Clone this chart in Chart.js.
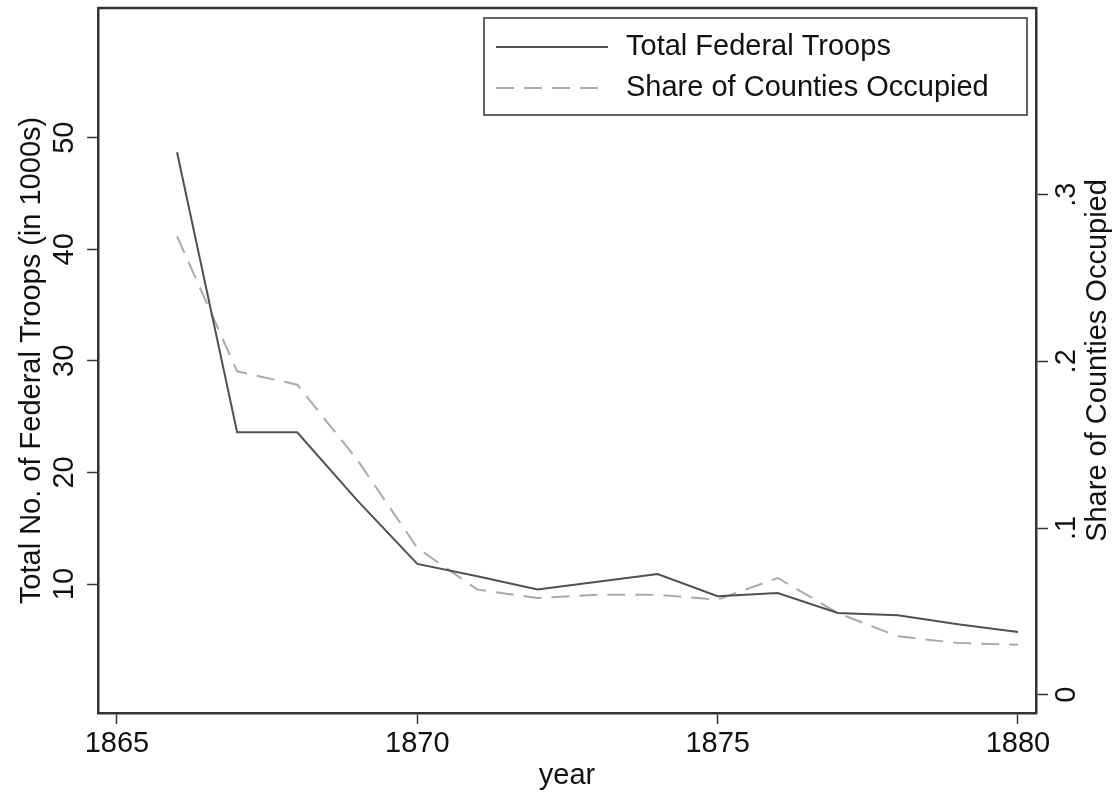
<!DOCTYPE html>
<html>
<head>
<meta charset="utf-8">
<title>Federal Troops</title>
<script src="https://cdn.jsdelivr.net/npm/chart.js@4"></script>
<style>
  html, body { margin: 0; padding: 0; background: #fff; overflow: hidden; }
  .chart-wrapper { position: relative; width: 1119px; height: 798px; }
</style>
</head>
<body>
<div class="chart-wrapper">
  <canvas id="chart"></canvas>
</div>
<script>
// values
const years = [1866, 1867, 1868, 1869, 1870, 1871, 1872, 1873, 1874, 1875, 1876, 1877, 1878, 1879, 1880];
const totalTroops = [48.7, 23.6, 23.6, 17.5, 11.8, 10.7, 9.5, 10.2, 10.9, 8.9, 9.2, 7.4, 7.2, 6.4, 5.7];
const shareOccupied = [0.275, 0.194, 0.186, 0.141, 0.088, 0.063, 0.058, 0.060, 0.060, 0.057, 0.070, 0.049, 0.035, 0.031, 0.030];

const seriesLabels = ['Total Federal Troops', 'Share of Counties Occupied'];
const yearTicks = [1865, 1870, 1875, 1880];
const troopTicks = [10, 20, 30, 40, 50];
const shareTicks = [0, 0.1, 0.2, 0.3];

const axisTitles = {
  x: 'year',
  y: 'Total No. of Federal Troops (in 1000s)',
  y2: 'Share of Counties Occupied'
};

const FONT = '"Liberation Sans", Arial, Helvetica, sans-serif';
const FONT_SIZE = 29;
const TEXT = '#111';
const AXIS = '#333';

// stata-style share labels: .1 .2 .3
const fmtShare = v => (v === 0 ? '0' : v.toFixed(1).replace(/^0\./, '.'));

const setTicks = list => scale => {
  scale.ticks = list.map(v => ({ value: v }));
};

// fixed axis sizes so the plot frame lands where the original has it
const fixWidth = w => s => {
  s.width = w;
  s.paddingTop = 0;
  s.paddingBottom = 0;
};

// legend box, frame top line and the right-hand title (reads bottom to top)
const extras = {
  id: 'extras',
  afterDraw(chart) {
    const { ctx, chartArea: ca } = chart;
    ctx.save();

    // top edge of the plot frame
    ctx.strokeStyle = AXIS;
    ctx.lineWidth = 2.5;
    ctx.beginPath();
    ctx.moveTo(ca.left, ca.top);
    ctx.lineTo(ca.right, ca.top);
    ctx.stroke();

    // right axis title
    const y2 = chart.scales.y2;
    ctx.fillStyle = TEXT;
    ctx.font = FONT_SIZE + 'px ' + FONT;
    ctx.textAlign = 'center';
    ctx.textBaseline = 'middle';
    ctx.save();
    ctx.translate(y2.right - 21, (ca.top + ca.bottom) / 2);
    ctx.rotate(-Math.PI / 2);
    ctx.fillText(axisTitles.y2, 0, 0);
    ctx.restore();

    // legend
    const boxW = 543, boxH = 97;
    const bx = ca.right - 9 - boxW;
    const by = ca.top + 10;
    ctx.lineWidth = 1.5;
    ctx.strokeStyle = AXIS;
    ctx.strokeRect(bx, by, boxW, boxH);

    chart.data.datasets.forEach((ds, i) => {
      const rowY = by + 29 + i * 41;
      ctx.strokeStyle = ds.borderColor;
      ctx.lineWidth = ds.borderWidth;
      ctx.setLineDash(ds.borderDash || []);
      ctx.beginPath();
      ctx.moveTo(bx + 12, rowY);
      ctx.lineTo(bx + 124, rowY);
      ctx.stroke();
      ctx.setLineDash([]);
      ctx.fillStyle = TEXT;
      ctx.textAlign = 'left';
      ctx.textBaseline = 'middle';
      ctx.fillText(ds.label, bx + 142, rowY);
    });

    ctx.restore();
  }
};

const ctx = document.getElementById('chart').getContext('2d');

new Chart(ctx, {
  type: 'line',
  data: {
    datasets: [{
      label: seriesLabels[0],
      data: years.map((yr, i) => ({ x: yr, y: totalTroops[i] })),
      borderColor: '#505050',
      borderWidth: 2,
      pointRadius: 0,
      tension: 0,
      yAxisID: 'y'
    }, {
      label: seriesLabels[1],
      data: years.map((yr, i) => ({ x: yr, y: shareOccupied[i] })),
      borderColor: '#aaaaaa',
      borderWidth: 2,
      borderDash: [18, 10],
      pointRadius: 0,
      tension: 0,
      yAxisID: 'y2'
    }]
  },
  options: {
    responsive: true,
    maintainAspectRatio: false,
    animation: false,
    layout: { padding: { top: 8, left: 0, right: 0, bottom: 0 } },
    plugins: {
      legend: { display: false },
      tooltip: { enabled: false }
    },
    scales: {
      x: {
        type: 'linear',
        position: 'bottom',
        min: 1864.684,
        max: 1880.3,
        afterBuildTicks: setTicks(yearTicks),
        afterFit: s => {
          s.height = 85;
          s.paddingLeft = 0;
          s.paddingRight = 0;
        },
        grid: { drawOnChartArea: false, tickLength: 11, tickColor: AXIS, tickWidth: 1.5 },
        border: { display: true, color: AXIS, width: 2.5 },
        ticks: {
          color: TEXT,
          font: { family: FONT, size: FONT_SIZE },
          padding: 3,
          maxRotation: 0,
          callback: v => String(v)
        },
        title: {
          display: true,
          text: axisTitles.x,
          color: TEXT,
          font: { family: FONT, size: FONT_SIZE },
          padding: { top: 0, bottom: 4.6 }
        }
      },
      y: {
        type: 'linear',
        position: 'left',
        min: -1.56,
        max: 61.62,
        afterBuildTicks: setTicks(troopTicks),
        afterFit: fixWidth(98),
        grid: { drawOnChartArea: false, tickLength: 11, tickColor: AXIS, tickWidth: 1.5 },
        border: { display: true, color: AXIS, width: 2.5 },
        ticks: {
          color: TEXT,
          font: { family: FONT, size: FONT_SIZE },
          minRotation: 90,
          maxRotation: 90,
          crossAlign: 'center',
          padding: 6.3,
          callback: v => String(v)
        },
        title: {
          display: true,
          text: axisTitles.y,
          color: TEXT,
          font: { family: FONT, size: FONT_SIZE },
          padding: { top: 14.1, bottom: 0 }
        }
      },
      y2: {
        type: 'linear',
        position: 'right',
        min: -0.011,
        max: 0.412,
        afterBuildTicks: setTicks(shareTicks),
        afterFit: fixWidth(83),
        grid: { drawOnChartArea: false, tickLength: 12, tickColor: AXIS, tickWidth: 1.5 },
        border: { display: true, color: AXIS, width: 2.5 },
        ticks: {
          color: TEXT,
          font: { family: FONT, size: FONT_SIZE },
          minRotation: 90,
          maxRotation: 90,
          crossAlign: 'center',
          padding: 7,
          callback: v => fmtShare(v)
        },
        title: { display: false }
      }
    }
  },
  plugins: [extras]
});
</script>
</body>
</html>
